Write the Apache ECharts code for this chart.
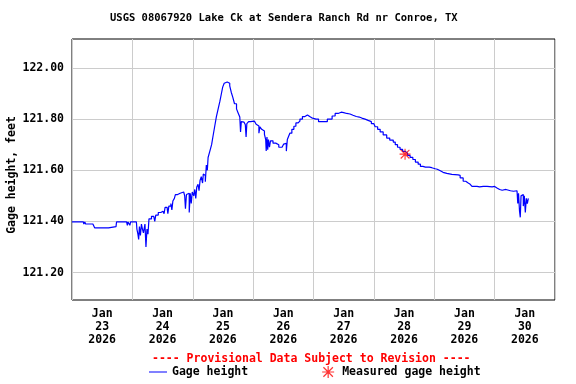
<!DOCTYPE html>
<html><head><meta charset="utf-8">
<script src="https://cdn.jsdelivr.net/npm/echarts@6/dist/echarts.min.js"></script>
<style>html,body{margin:0;padding:0;background:#fff}#c{width:576px;height:384px}</style>
</head><body><div id="c"></div>
<script>
// hours since 2026-01-23 00:00
const hours = [0,4.5,4.7,5.1,5.4,8.3,8.5,9.0,14.5,14.7,17.5,17.7,21.7,22.0,22.3,23.0,23.3,25.6,25.8,26.2,26.5,26.8,27.2,27.6,28.0,28.4,29.0,29.4,29.8,30.2,30.6,31.6,32.5,32.9,33.3,34.3,35.3,36.2,36.6,37.0,37.8,38.1,38.5,39.3,39.7,40.1,40.7,41.1,42.0,43.0,43.5,44.4,44.8,45.1,45.5,46.2,46.6,47.0,47.4,47.8,48.4,48.8,49.2,49.6,50.1,50.5,50.9,51.4,51.9,52.2,52.7,53.0,53.4,53.8,54.1,54.8,55.5,56.0,56.7,57.4,58.1,58.8,59.4,59.9,60.5,61.1,61.7,62.7,63.3,63.9,64.6,65.4,66.0,66.7,67.0,67.3,67.9,68.4,68.9,69.2,69.5,70.2,71.0,72.5,73.2,73.9,74.3,74.7,75.4,75.9,76.5,77.0,77.2,77.5,77.8,78.1,78.5,78.9,79.9,81.0,81.6,82.2,83.5,84.1,84.8,85.2,85.6,86.2,86.6,87.4,88.2,89.0,89.8,90.6,91.6,92.6,93.6,94.5,95.3,97.0,98.0,100.5,101.5,102.5,103.4,104.6,105.8,107.0,108.0,109.2,110.5,111.7,113.0,114.2,115.2,116.5,117.7,119.0,120.0,120.5,121.5,122.5,123.7,125.1,126.3,127.7,128.5,129.4,130.4,131.4,132.4,133.4,134.4,135.5,136.5,137.6,138.5,139.5,140.5,141.1,142.0,143.0,144.4,145.2,146.4,147.5,149.0,151.0,153.5,154.3,155.5,156.5,157.5,158.3,159.0,161.0,162.0,162.4,163.5,165.0,166.0,167.0,168.0,169.1,170.0,171.0,172.5,174.3,175.5,176.9,177.2,177.5,177.9,178.2,178.5,179.0,179.4,179.8,180.2,180.6,181.0,181.4];
const gage = [121.398,121.398,121.39,121.398,121.39,121.39,121.385,121.375,121.375,121.38,121.38,121.398,121.398,121.385,121.398,121.385,121.398,121.398,121.37,121.35,121.33,121.38,121.345,121.39,121.37,121.355,121.39,121.30,121.37,121.35,121.41,121.42,121.42,121.40,121.425,121.435,121.44,121.445,121.43,121.455,121.46,121.43,121.46,121.47,121.445,121.48,121.49,121.505,121.51,121.505,121.515,121.51,121.50,121.45,121.505,121.51,121.435,121.51,121.47,121.515,121.50,121.525,121.49,121.535,121.545,121.52,121.56,121.575,121.55,121.585,121.58,121.555,121.62,121.60,121.65,121.675,121.70,121.73,121.77,121.81,121.84,121.87,121.90,121.925,121.94,121.945,121.94,121.93,121.905,121.886,121.86,121.84,121.825,121.808,121.75,121.79,121.788,121.785,121.778,121.73,121.782,121.79,121.792,121.792,121.78,121.773,121.745,121.77,121.76,121.753,121.74,121.72,121.675,121.73,121.68,121.72,121.69,121.715,121.706,121.706,121.70,121.69,121.69,121.702,121.705,121.675,121.72,121.735,121.745,121.76,121.772,121.785,121.792,121.80,121.81,121.816,121.81,121.805,121.80,121.80,121.79,121.79,121.80,121.80,121.812,121.822,121.827,121.825,121.822,121.82,121.815,121.81,121.808,121.804,121.80,121.795,121.79,121.782,121.775,121.77,121.76,121.75,121.738,121.726,121.718,121.71,121.70,121.69,121.682,121.674,121.667,121.658,121.65,121.642,121.632,121.624,121.615,121.612,121.608,121.612,121.61,121.606,121.604,121.598,121.592,121.588,121.584,121.582,121.58,121.57,121.557,121.55,121.545,121.54,121.537,121.535,121.53,121.537,121.537,121.536,121.535,121.537,121.53,121.525,121.522,121.525,121.52,121.518,121.52,121.514,121.47,121.51,121.44,121.416,121.50,121.505,121.46,121.50,121.435,121.49,121.47,121.49];
const measuredHours = [132.4];
const measuredGage = [121.663];
const yTicks = [121.2, 121.4, 121.6, 121.8, 122.0];
const dayLabelHours = [12, 36, 60, 84, 108, 132, 156, 180];
const dayLabels = ['Jan\n23\n2026','Jan\n24\n2026','Jan\n25\n2026','Jan\n26\n2026','Jan\n27\n2026','Jan\n28\n2026','Jan\n29\n2026','Jan\n30\n2026'];
const titleText = 'USGS 08067920 Lake Ck at Sendera Ranch Rd nr Conroe, TX';
const provisionalText = '---- Provisional Data Subject to Revision ----';

const FONT = 'DejaVu Sans Mono';
const ASTER = 'path://M0 9L20 9L20 11L0 11ZM9 0L11 0L11 20L9 20ZM1.4 2.8L2.8 1.4L18.6 17.2L17.2 18.6ZM17.2 1.4L18.6 2.8L2.8 18.6L1.4 17.2Z';
const LINEICON = 'path://M0 0L18 0L18 1L0 1Z';

const lineData = hours.map((h, i) => [h, gage[i]]);
const measData = measuredHours.map((h, i) => [h, measuredGage[i]]);

const chart = echarts.init(document.getElementById('c'), null, {renderer: 'canvas'});
chart.setOption({
  animation: false,
  backgroundColor: '#fff',
  title: [
    {text: titleText, left: 110, top: 13, textStyle: {fontFamily: FONT, fontWeight: 'bold', fontSize: 10.5, color: '#000'}, padding: 0},
    {text: provisionalText, left: 152, top: 353, textStyle: {fontFamily: FONT, fontWeight: 'bold', fontSize: 11.5, color: '#ff0000'}, padding: 0}
  ],
  legend: {
    left: 149, top: 366, itemGap: 74, padding: 0,
    itemWidth: 18, itemHeight: 12, symbolKeepAspect: true,
    textStyle: {fontFamily: FONT, fontWeight: 'bold', fontSize: 11.5, color: '#000'},
    data: [
      {name: 'Gage height', icon: LINEICON, itemStyle: {color: '#0000ff'}},
      {name: 'Measured gage height', icon: ASTER, itemStyle: {color: '#ff0000'}}
    ]
  },
  grid: {left: 72, right: 21, top: 39, bottom: 84, outerBoundsMode: 'none', containLabel: false,
         show: true, borderColor: '#000', borderWidth: 1, backgroundColor: 'transparent'},
  xAxis: {
    type: 'value', min: 0, max: 192, interval: 24,
    axisLine: {show: false}, axisTick: {show: false},
    splitLine: {show: true, lineStyle: {color: '#cccccc', width: 1}},
    axisLabel: {
      customValues: dayLabelHours,
      formatter: v => dayLabels[dayLabelHours.indexOf(v)] || '',
      fontFamily: FONT, fontWeight: 'bold', fontSize: 11.5, color: '#000', lineHeight: 13, margin: 8
    }
  },
  yAxis: {
    type: 'value', min: 121.093, max: 122.113,
    name: 'Gage height, feet', nameLocation: 'middle', nameGap: 54, nameMoveOverlap: false,
    nameTextStyle: {fontFamily: FONT, fontWeight: 'bold', fontSize: 11.5, color: '#000', padding: [0, 11, 0, 0]},
    axisLine: {show: false},
    axisTick: {show: false, customValues: yTicks},
    splitLine: {show: true, lineStyle: {color: '#cccccc', width: 1}},
    axisLabel: {
      customValues: yTicks,
      formatter: v => v.toFixed(2),
      fontFamily: FONT, fontWeight: 'bold', fontSize: 11.5, color: '#000', margin: 8
    }
  },
  series: [
    {name: 'Gage height', type: 'line', data: lineData, step: 'end', symbol: 'none', showSymbol: false,
     lineStyle: {color: '#0000ff', width: 1.2}, itemStyle: {color: '#0000ff'}, z: 2},
    {name: 'Measured gage height', type: 'scatter', data: measData, symbol: ASTER, symbolSize: 11,
     itemStyle: {color: '#ff0000'}, z: 3}
  ]
});
</script>
</body></html>
